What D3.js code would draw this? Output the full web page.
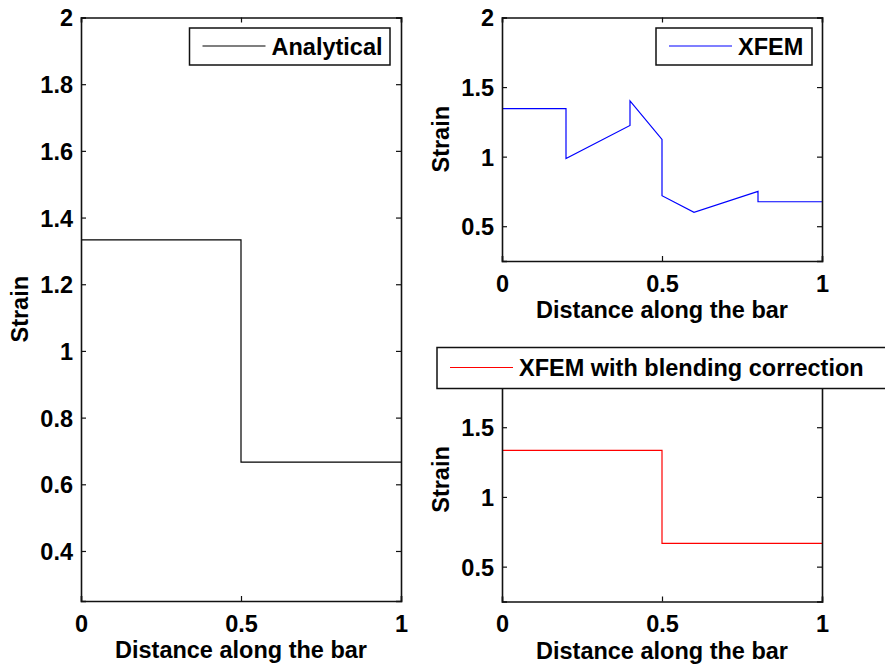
<!DOCTYPE html>
<html>
<head>
<meta charset="utf-8">
<script src="https://cdn.jsdelivr.net/npm/d3@7"></script>
<style>
  html, body { margin: 0; padding: 0; background: #fff; }
  svg { display: block; }
  text { font-family: "Liberation Sans", Arial, sans-serif; font-weight: bold; fill: #000; }
</style>
</head>
<body>
<svg id="chart" width="885" height="665"></svg>
<script>
// ---- Data ----
const analyticalX = [0, 0.5, 0.5, 1];
const analyticalY = [1.3333, 1.3333, 0.6667, 0.6667];

const xfemX = [0, 0.2, 0.2, 0.4, 0.4, 0.5, 0.5, 0.6, 0.8, 0.8, 1];
const xfemY = [1.345, 1.345, 0.986, 1.224, 1.40, 1.124, 0.719, 0.60, 0.75, 0.676, 0.676];

const blendX = [0, 0.5, 0.5, 1];
const blendY = [1.3333, 1.3333, 0.6667, 0.6667];

const xTicks = [0, 0.5, 1];
const yTicksLeft = [0.4, 0.6, 0.8, 1, 1.2, 1.4, 1.6, 1.8, 2];
const yTicksRight = [0.5, 1, 1.5, 2];
const yDomain = [0.25, 2];

const xLabel = "Distance along the bar";
const yLabel = "Strain";

// ---- Layout ----
const svg = d3.select("#chart");
const panels = [
  { left: 81, right: 401, top: 17.5, bottom: 601, yTicks: yTicksLeft,
    xs: analyticalX, ys: analyticalY, color: "#000000", name: "Analytical",
    legend: { x0: 189.5, x1: 390, y0: 28, y1: 65 } },
  { left: 502, right: 822, top: 17.5, bottom: 261, yTicks: yTicksRight,
    xs: xfemX, ys: xfemY, color: "#0000ff", name: "XFEM",
    legend: { x0: 656, x1: 812, y0: 28, y1: 65 } },
  { left: 502, right: 822, top: 357.5, bottom: 601.5, yTicks: yTicksRight,
    xs: blendX, ys: blendY, color: "#ff0000", name: "XFEM with blending correction",
    legend: { x0: 437, x1: 886, y0: 347.5, y1: 388.5 } }
];

const tickFont = "23.5px";
const labelFont = "23.5px";

panels.forEach(p => {
  const x = d3.scaleLinear().domain([0, 1]).range([p.left, p.right]);
  const y = d3.scaleLinear().domain(yDomain).range([p.bottom, p.top]);
  const g = svg.append("g");

  // data line
  const pts = p.xs.map((v, i) => [v, p.ys[i]]);
  const line = d3.line().x(d => x(d[0])).y(d => y(d[1]));
  g.append("path").datum(pts).attr("d", line)
    .attr("fill", "none").attr("stroke", p.color).attr("stroke-width", 1.2);

  // axes (inside ticks, MATLAB-style box)
  const tl = 5;
  const axB = d3.axisBottom(x).tickValues(xTicks).tickSize(-tl).tickPadding(0).tickFormat(d3.format("~g"));
  const axT = d3.axisTop(x).tickValues(xTicks).tickSize(-tl).tickFormat("");
  const axL = d3.axisLeft(y).tickValues(p.yTicks).tickSize(-tl).tickFormat(d3.format("~g"));
  const axR = d3.axisRight(y).tickValues(p.yTicks).tickSize(-tl).tickFormat("");

  const gb = g.append("g").attr("transform", `translate(0,${p.bottom})`).call(axB);
  const gt = g.append("g").attr("transform", `translate(0,${p.top})`).call(axT);
  const gl = g.append("g").attr("transform", `translate(${p.left},0)`).call(axL);
  const gr = g.append("g").attr("transform", `translate(${p.right},0)`).call(axR);

  [gb, gt, gl, gr].forEach(a => {
    a.select(".domain").attr("stroke", "#111").attr("stroke-width", 1.6);
    a.selectAll(".tick line").attr("stroke", "#111").attr("stroke-width", 1.2);
  });
  gb.selectAll(".tick text").attr("y", 30.5).attr("dy", 0)
    .style("font-size", tickFont).style("font-family", "Liberation Sans, Arial, sans-serif").style("font-weight", "bold").attr("fill", "#000");
  gl.selectAll(".tick text").attr("x", -8).attr("dy", "0.36em")
    .style("font-size", tickFont).style("font-family", "Liberation Sans, Arial, sans-serif").style("font-weight", "bold").attr("fill", "#000");

  // axis labels
  g.append("text").attr("x", (p.left + p.right) / 2).attr("y", p.bottom + 57)
    .attr("text-anchor", "middle").style("font-size", labelFont).text(xLabel);
  g.append("text")
    .attr("transform", `translate(${p.left - 53},${(p.top + p.bottom) / 2}) rotate(-90)`)
    .attr("text-anchor", "middle").style("font-size", labelFont).text(yLabel);

  // legend
  const L = p.legend;
  const lg = svg.append("g");
  lg.append("rect").attr("x", L.x0).attr("y", L.y0)
    .attr("width", L.x1 - L.x0).attr("height", L.y1 - L.y0)
    .attr("fill", "#fff").attr("stroke", "#111").attr("stroke-width", 1.5);
  const ly = (L.y0 + L.y1) / 2 - 0.5;
  lg.append("line").attr("x1", L.x0 + 13).attr("x2", L.x0 + 76)
    .attr("y1", ly).attr("y2", ly).attr("stroke", p.color).attr("stroke-width", 1.2);
  lg.append("text").attr("x", L.x0 + 82).attr("y", ly + 8.5)
    .style("font-size", labelFont).text(p.name);
});
</script>
</body>
</html>
